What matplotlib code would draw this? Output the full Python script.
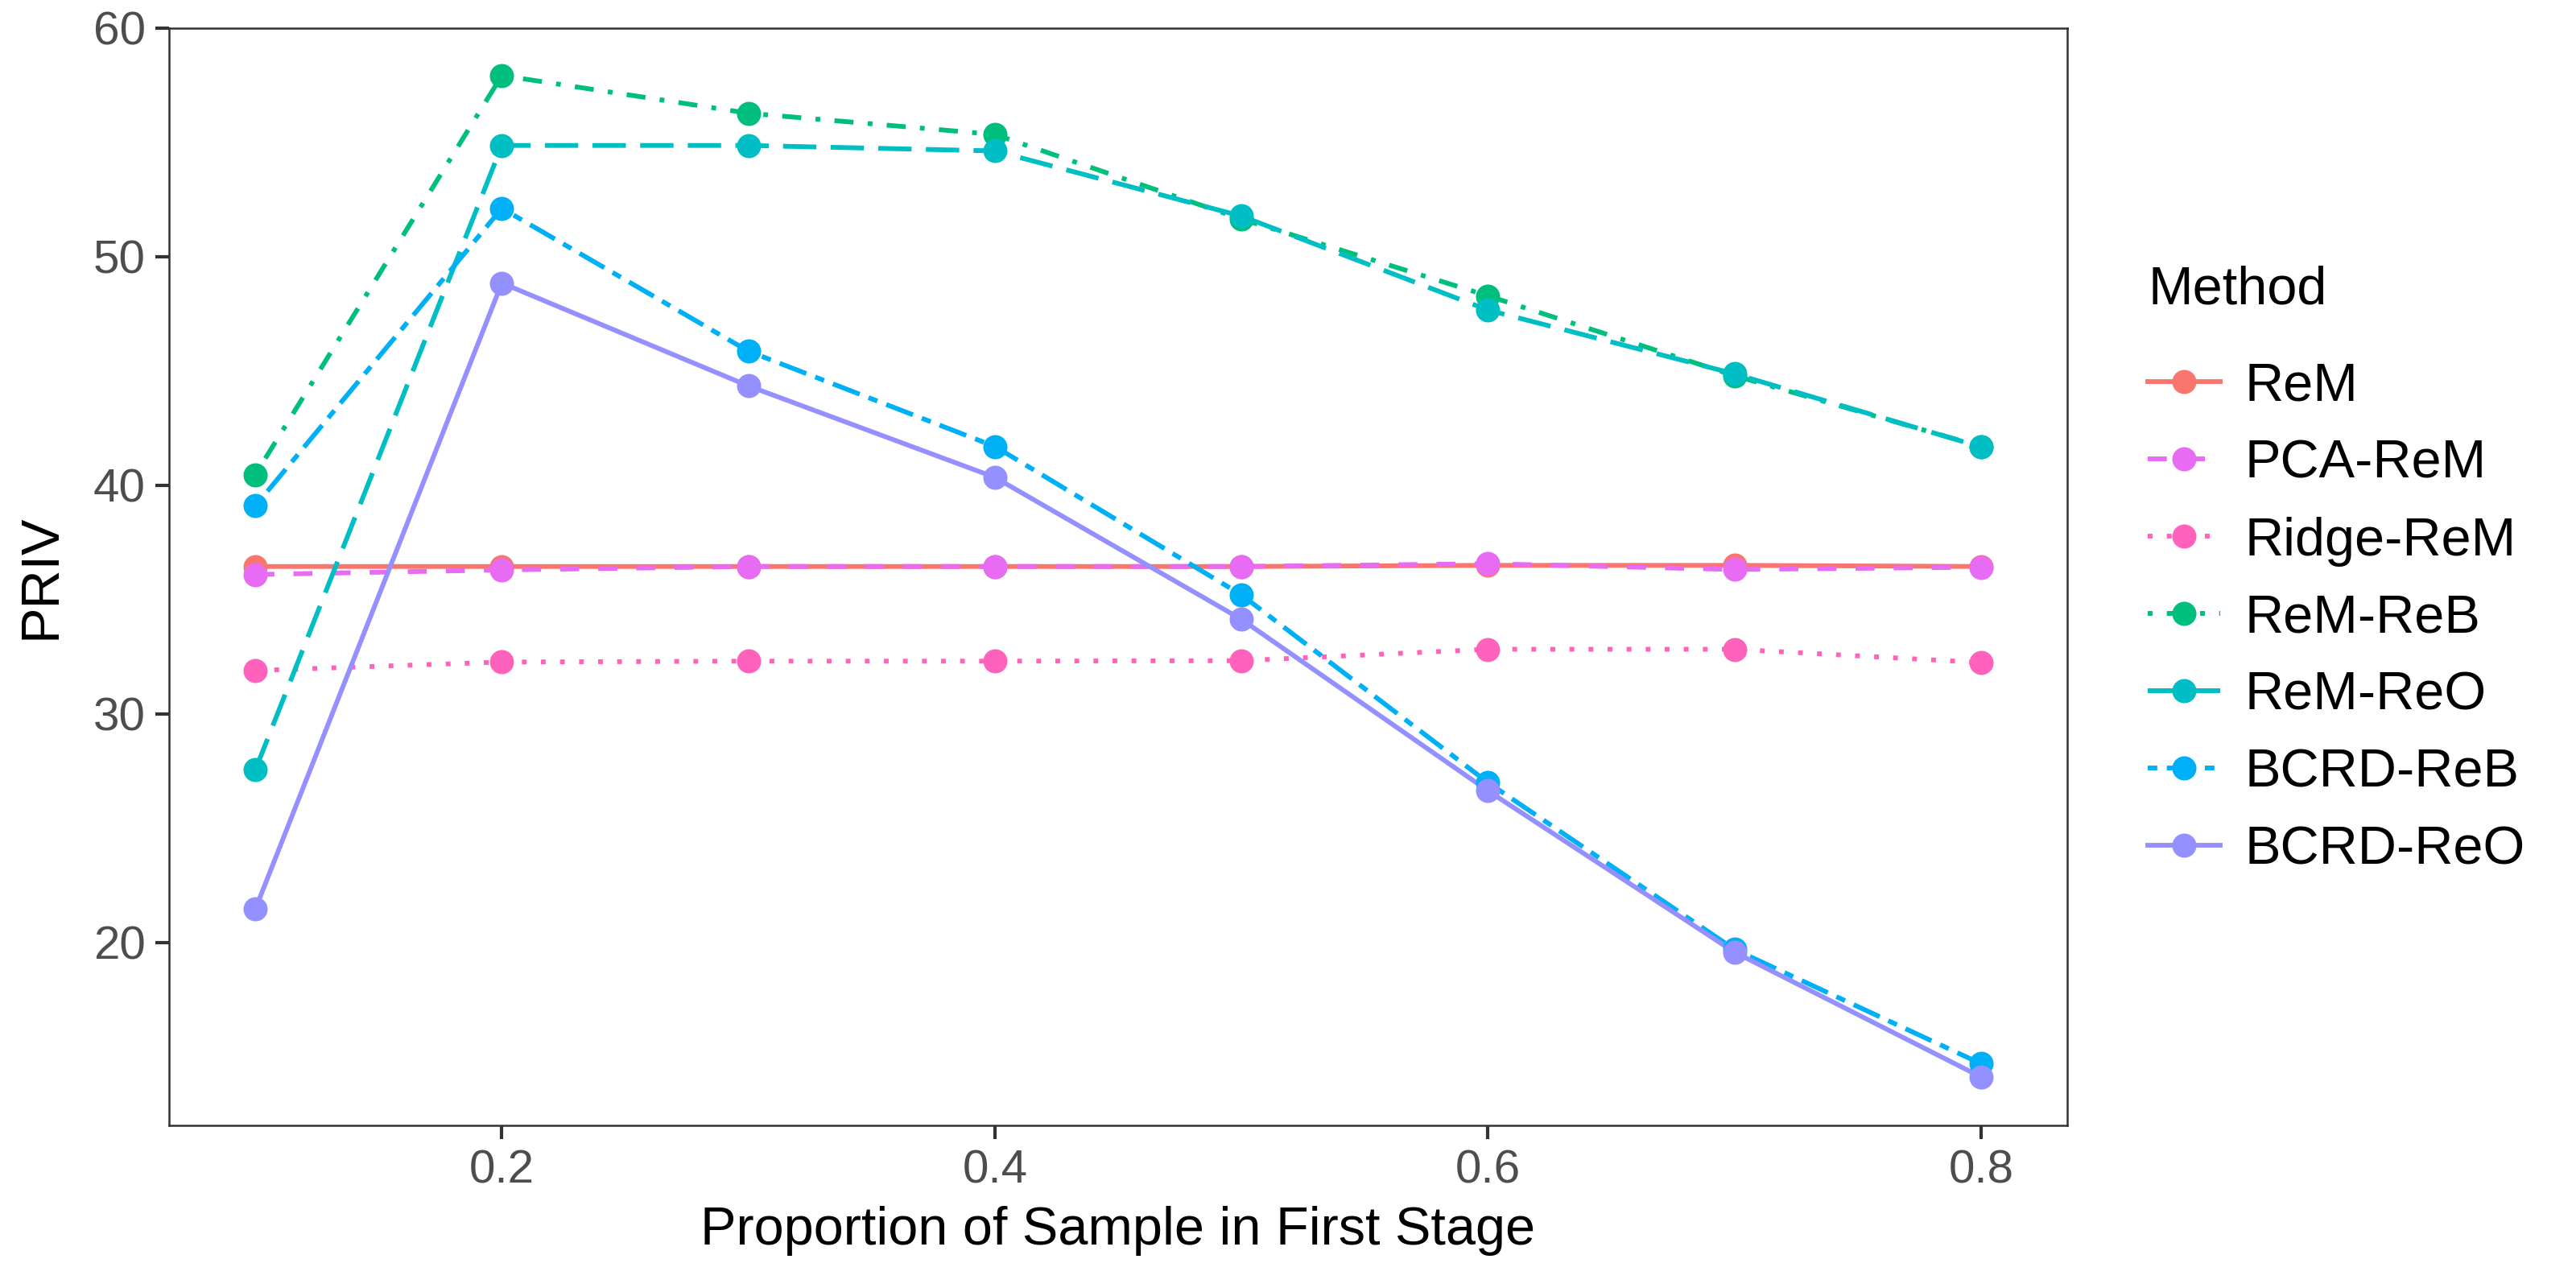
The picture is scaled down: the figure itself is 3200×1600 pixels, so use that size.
import numpy as np
import matplotlib.pyplot as plt
from matplotlib.lines import Line2D

plt.rcParams['font.family'] = ['Liberation Sans', 'DejaVu Sans']

# -----------------------------
# DATA
# -----------------------------
proportion = [0.1, 0.2, 0.3, 0.4, 0.5, 0.6, 0.7, 0.8]

methods = ["ReM", "PCA-ReM", "Ridge-ReM", "ReM-ReB", "ReM-ReO", "BCRD-ReB", "BCRD-ReO"]

rem       = [36.45, 36.45, 36.45, 36.45, 36.45, 36.5, 36.5, 36.45]
pca_rem   = [36.1, 36.3, 36.45, 36.45, 36.45, 36.57, 36.32, 36.42]
ridge_rem = [31.9, 32.27, 32.31, 32.31, 32.33, 32.83, 32.83, 32.25]
rem_reb   = [40.47, 57.93, 56.28, 55.35, 51.65, 48.29, 44.8, 41.7]
rem_reo   = [27.55, 54.87, 54.87, 54.63, 51.78, 47.67, 44.88, 41.68]
bcrd_reb  = [39.1, 52.12, 45.87, 41.7, 35.21, 27.0, 19.7, 14.7]
bcrd_reo  = [21.46, 48.85, 44.35, 40.35, 34.14, 26.64, 19.58, 14.12]

series = [rem, pca_rem, ridge_rem, rem_reb, rem_reo, bcrd_reb, bcrd_reo]

# ggplot hue palette colours and linetypes
colors = ["#F8766D", "#E76BF3", "#FF62BC", "#00BF7D", "#00BFC4", "#00B0F6", "#9590FF"]
dashes = [None, (4, 4), (1, 3), (1, 3, 4, 3), (7, 3), (2, 2, 6, 2), None]

LW = 1.42
MS = 7.2

# -----------------------------
# PLOT
# -----------------------------
fig = plt.figure(figsize=(3200 / 300, 1600 / 300), dpi=300)
ax = fig.add_axes([210 / 3200, 1 - 1398 / 1600, (2568 - 210) / 3200, (1398 - 35) / 1600])

# lines first, then points (as geom_line + geom_point)
for vals, c, d in zip(series, colors, dashes):
    ln, = ax.plot(proportion, vals, color=c, lw=LW, solid_capstyle="butt", dash_capstyle="butt")
    if d is not None:
        ln.set_dashes(d)
for vals, c in zip(series, colors):
    ax.plot(proportion, vals, linestyle="none", marker="o", ms=MS, color=c, markeredgewidth=0)

ax.set_xlim(0.065, 0.835)
ax.set_ylim(12.0, 60.0)
ax.set_xticks([0.2, 0.4, 0.6, 0.8])
ax.set_xticklabels(["0.2", "0.4", "0.6", "0.8"])
ax.set_yticks([20, 30, 40, 50, 60])

for s in ax.spines.values():
    s.set_color("#333333")
    s.set_linewidth(0.6)
ax.tick_params(axis="both", colors="#333333", length=4, width=1.0, labelsize=14,
               labelcolor="#4D4D4D", pad=3)

ax.set_xlabel("Proportion of Sample in First Stage", fontsize=16, labelpad=4)
ax.set_ylabel("PRIV", fontsize=16, labelpad=8)

# legend
handles = []
for m, c, d in zip(methods, colors, dashes):
    h = Line2D([0], [0], color=c, lw=LW, marker="o", ms=MS, markeredgewidth=0)
    if d is not None:
        h.set_dashes(d)
    handles.append(h)

leg = fig.legend(handles, methods, title="Method", loc="upper left",
                 bbox_to_anchor=(2635 / 3200, 1 - 296 / 1600), frameon=False,
                 fontsize=16, title_fontsize=16, handlelength=1.35, handletextpad=0.45,
                 labelspacing=0.51, numpoints=1, borderpad=0, alignment="left")
leg._legend_box.sep = 14

fig.savefig("out.png", dpi=300)
